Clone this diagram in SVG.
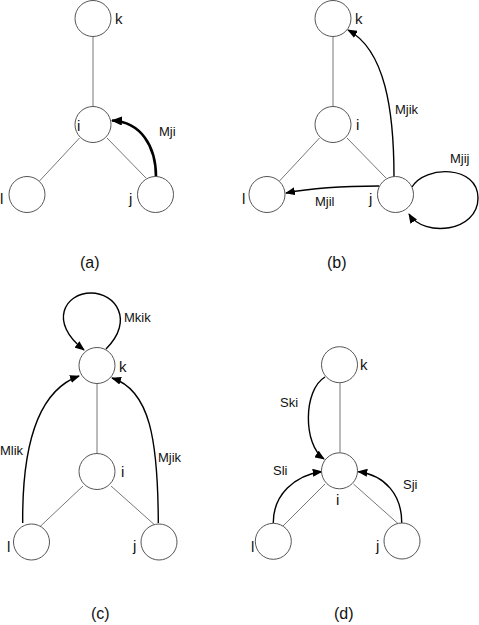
<svg xmlns="http://www.w3.org/2000/svg" width="479" height="625" viewBox="0 0 479 625">
<style>
.node{fill:#fff;stroke:#555;stroke-width:1}
.edge{fill:none;stroke:#777;stroke-width:1}
.arr{fill:none;stroke:#000;stroke-width:1.4;marker-end:url(#ah)}
.arrb{fill:none;stroke:#000;stroke-width:2.6;marker-end:url(#ahb)}
.nl{font-family:"Liberation Sans",Arial,sans-serif;font-size:15px;fill:#111}
.el{font-family:"Liberation Sans",Arial,sans-serif;font-size:13px;fill:#111}
.cap{font-family:"Liberation Sans",Arial,sans-serif;font-size:16px;fill:#111}
</style>
<defs>
<marker id="ah" markerUnits="userSpaceOnUse" markerWidth="10" markerHeight="8" refX="9" refY="4" orient="auto"><path d="M0,0 L10,4 L0,8 Z" fill="#000"/></marker>
<marker id="ahb" markerUnits="userSpaceOnUse" markerWidth="11" markerHeight="9" refX="10" refY="4.5" orient="auto"><path d="M0,0 L11,4.5 L0,9 Z" fill="#000"/></marker>
</defs>
<rect width="479" height="625" fill="#fff"/>

<g id="connectors">
<!-- (a) -->
<path class="edge" d="M93,36.5 V106.5"/>
<path class="edge" d="M79.5,138 L39.5,181"/>
<path class="edge" d="M107,138 L146,178"/>
<path class="arrb" d="M156,177 C156,146 141,122 112,120.5"/>
<!-- (b) -->
<path class="edge" d="M333,36.5 V106.5"/>
<path class="edge" d="M319.5,138 L279.5,181"/>
<path class="edge" d="M347,138 L386,178"/>
<path class="arr" d="M394,177 C394,110 385,50 348,30"/>
<path class="arr" d="M379,186 C340,186 312,188 286,193"/>
<path class="arr" d="M412,187 C425,165 478,165 478,198 C478,232 424,238 409,214"/>
<!-- (c) -->
<path class="edge" d="M97,383.5 V453.5"/>
<path class="edge" d="M83,486 L38.5,528"/>
<path class="edge" d="M111,486 L157,527"/>
<path class="arr" d="M106,349 C135,320 115,293 91,293 C65,293 48,322 84,350"/>
<path class="arr" d="M22.7,523 C22,440 40,390 79,376"/>
<path class="arr" d="M158.3,523 C158,440 150,390 112,378"/>
<!-- (d) -->
<path class="edge" d="M340,382.7 V453"/>
<path class="edge" d="M325,484 L282,527"/>
<path class="edge" d="M353.5,484 L398.5,524"/>
<path class="arr" d="M325,377 C303,390 303,445 324,459"/>
<path class="arr" d="M273.3,523 C273,495 295,475 321.7,471.7"/>
<path class="arr" d="M401.7,523 C402,495 385,475 358.3,471.7"/>
</g>

<g id="edge-labels">
<text class="el" x="159" y="136">Mji</text>
<text class="el" x="395" y="114">Mjik</text>
<text class="el" x="315" y="206">Mjil</text>
<text class="el" x="450" y="163">Mjij</text>
<text class="el" x="124" y="322">Mkik</text>
<text class="el" x="0" y="455">Mlik</text>
<text class="el" x="158" y="462">Mjik</text>
<text class="el" x="280" y="407">Ski</text>
<text class="el" x="273" y="475">Sli</text>
<text class="el" x="403" y="489">Sji</text>
</g>

<g id="panel-a">
<g id="a-k"><circle class="node" cx="93" cy="18.5" r="18"/><text class="nl" x="115" y="24">k</text></g>
<g id="a-i"><circle class="node" cx="93" cy="124.5" r="18"/><text class="nl" x="77" y="131">i</text></g>
<g id="a-l"><circle class="node" cx="27" cy="194.5" r="18"/><text class="nl" x="0" y="204">l</text></g>
<g id="a-j"><circle class="node" cx="155.5" cy="194.5" r="18"/><text class="nl" x="129" y="204">j</text></g>
<text class="cap" x="80" y="268">(a)</text>
</g>

<g id="panel-b">
<g id="b-k"><circle class="node" cx="333" cy="18.5" r="18"/><text class="nl" x="355" y="24">k</text></g>
<g id="b-i"><circle class="node" cx="333" cy="124.5" r="18"/><text class="nl" x="356" y="130">i</text></g>
<g id="b-l"><circle class="node" cx="267" cy="194.5" r="18"/><text class="nl" x="242" y="204">l</text></g>
<g id="b-j"><circle class="node" cx="395.5" cy="194.5" r="18"/><text class="nl" x="369" y="204">j</text></g>
<text class="cap" x="327" y="268">(b)</text>
</g>

<g id="panel-c">
<g id="c-k"><circle class="node" cx="97" cy="365.5" r="18"/><text class="nl" x="119" y="372">k</text></g>
<g id="c-i"><circle class="node" cx="97" cy="471.5" r="18"/><text class="nl" x="121" y="477">i</text></g>
<g id="c-l"><circle class="node" cx="31.5" cy="542" r="18"/><text class="nl" x="7" y="552">l</text></g>
<g id="c-j"><circle class="node" cx="159" cy="542" r="18"/><text class="nl" x="133" y="551">j</text></g>
<text class="cap" x="91" y="619">(c)</text>
</g>

<g id="panel-d">
<g id="d-k"><circle class="node" cx="339.5" cy="364.7" r="18"/><text class="nl" x="360" y="370">k</text></g>
<g id="d-i"><circle class="node" cx="339.5" cy="470.8" r="18"/><text class="nl" x="336" y="505">i</text></g>
<g id="d-l"><circle class="node" cx="273.3" cy="541.3" r="18"/><text class="nl" x="251" y="552">l</text></g>
<g id="d-j"><circle class="node" cx="402" cy="541" r="18"/><text class="nl" x="376" y="551">j</text></g>
<text class="cap" x="334" y="619">(d)</text>
</g>
</svg>
